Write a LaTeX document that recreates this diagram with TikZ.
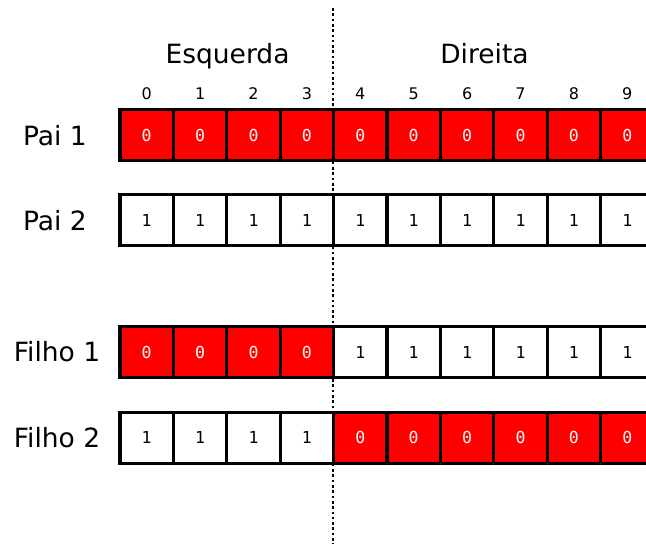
\documentclass[tikz,border=0pt]{standalone}
\usepackage{fontspec}
\setmainfont{DejaVu Sans}
\newfontfamily\cellfont{DejaVu Sans Mono}
\begin{document}
\begin{tikzpicture}[x=1pt,y=-1pt,
  cell/.style={draw=black, line width=3.2pt, minimum width=53.4pt, minimum height=51pt,
    inner sep=0pt, outer sep=0pt, font=\cellfont\fontsize{16.5}{16.5}\selectfont},
  redcell/.style={cell, fill=red, text=white},
  whitecell/.style={cell, fill=white, text=black},
  rowlabel/.style={font=\fontsize{26.5}{26.5}\selectfont, inner sep=0pt},
  sidelabel/.style={font=\fontsize{26.5}{26.5}\selectfont, inner sep=0pt, anchor=base},
  idxlabel/.style={font=\fontsize{16}{16}\selectfont, inner sep=0pt, anchor=base},
  cut/.style={line width=2.8pt, dash pattern=on 2.6pt off 2.7pt}]
\useasboundingbox (0,0) rectangle (646,544);
\clip (0,0) rectangle (646,544);
\fill[white] (0,0) rectangle (646,544);
% cut line
\coordinate (cuttop) at (333,8);
\coordinate (cutbot) at (333,544);
\draw[cut] (cuttop) -- (cutbot);
% headings
\node[sidelabel] (esq) at (227.5,63) {Esquerda};
\node[sidelabel] (dir) at (484.5,63) {Direita};
% indices
\foreach \i in {0,...,9} {
  \node[idxlabel] (idx\i) at ({120+53.4*(\i+0.5)},99) {\i};
}
% row labels
\node[rowlabel] (lp1) at (55,135.3) {Pai 1};
\node[rowlabel] (lp2) at (55,220.3) {Pai 2};
\node[rowlabel] (lf1) at (57,352) {Filho 1};
\node[rowlabel] (lf2) at (57,437.8) {Filho 2};
% cells
\foreach \i in {0,...,9} {
  \pgfmathsetmacro{\cx}{120+53.4*(\i+0.5)}
  \node[redcell] (p1c\i) at (\cx,135.3) {0};
  \node[whitecell] (p2c\i) at (\cx,220.3) {1};
}
\foreach \i in {0,...,3} {
  \pgfmathsetmacro{\cx}{120+53.4*(\i+0.5)}
  \node[redcell] (f1c\i) at (\cx,352) {0};
  \node[whitecell] (f2c\i) at (\cx,437.8) {1};
}
\foreach \i in {4,...,9} {
  \pgfmathsetmacro{\cx}{120+53.4*(\i+0.5)}
  \node[whitecell] (f1c\i) at (\cx,352) {1};
  \node[redcell] (f2c\i) at (\cx,437.8) {0};
}
\end{tikzpicture}
\end{document}
